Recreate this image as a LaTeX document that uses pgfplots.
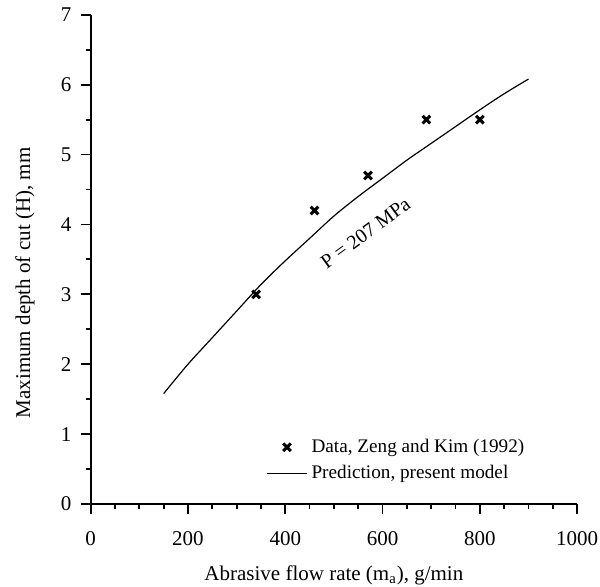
\documentclass[border=0pt]{standalone}
\usepackage{fontspec}
\setmainfont{Liberation Serif}
\usepackage{pgfplots}
\pgfplotsset{compat=1.18}
\pgfplotsset{
  marklegend/.style={legend image code/.code={\draw[##1] plot coordinates {(10pt,0pt)};}},
  linelegend/.style={legend image code/.code={\draw[##1] (0pt,0pt) -- (20pt,0pt);}},
}

\begin{document}
\fontsize{10.5}{12}\selectfont
\begin{tikzpicture}
  \begin{axis}[
    at={(0,0)}, anchor=origin,
    scale only axis, width=243.2pt, height=244.6pt,
    xmin=0, xmax=1000, ymin=0, ymax=7,
    axis x line*=bottom, axis y line*=left,
    axis line style={line width=0.9pt, -},
    xtick={0,200,...,1000}, ytick={0,1,...,7},
    minor x tick num=3, minor y tick num=1,
    tick align=outside,
    major tick length=5pt, minor tick length=2.5pt,
    every tick/.style={line width=0.9pt, black},
    /pgf/number format/assume math mode=true,
    /pgf/number format/1000 sep={},
    tick label style={font=\fontsize{10.5}{12}\selectfont},
    xticklabel shift=5pt, yticklabel shift=1pt,
    label style={font=\fontsize{10.5}{12}\selectfont},
    xlabel={Abrasive flow rate (m\textsubscript{a}), g/min},
    ylabel={Maximum depth of cut (H), mm},
    xlabel style={at={(axis description cs:0.5,-0.1554)}, anchor=base},
    ylabel style={at={(axis description cs:-0.1353,0.452)}, anchor=center},
    legend style={at={(0.348,0.15)}, anchor=north west, draw=none, fill=none,
      font=\fontsize{9.6}{11}\selectfont, row sep=1pt,
      /tikz/every even column/.append style={column sep=6pt}},
    legend cell align=left,
  ]
  \addplot[only marks, mark=x, mark size=2.7pt, line width=1.5pt, black, marklegend]
    coordinates {(340,3.0)(460,4.2)(570,4.7)(690,5.5)(800,5.5)};
  \addlegendentry{Data, Zeng and Kim (1992)}
  \addplot[black, line width=0.6pt, smooth, linelegend] coordinates {
    (150,1.58)(200,2.00)(250,2.38)(300,2.76)(350,3.14)(400,3.48)
    (450,3.80)(500,4.12)(550,4.40)(600,4.66)(650,4.92)(700,5.16)
    (750,5.40)(800,5.64)(850,5.87)(900,6.08)};
  \addlegendentry{Prediction, present model}
  \node[rotate=36, font=\fontsize{10}{12}\selectfont] at (axis cs:565,3.88) {P = 207 MPa};
  \end{axis}
  \pgfresetboundingbox
  \path[use as bounding box] (-45.35pt,-41.5pt) rectangle (254.65pt,252pt);
\end{tikzpicture}
\end{document}
